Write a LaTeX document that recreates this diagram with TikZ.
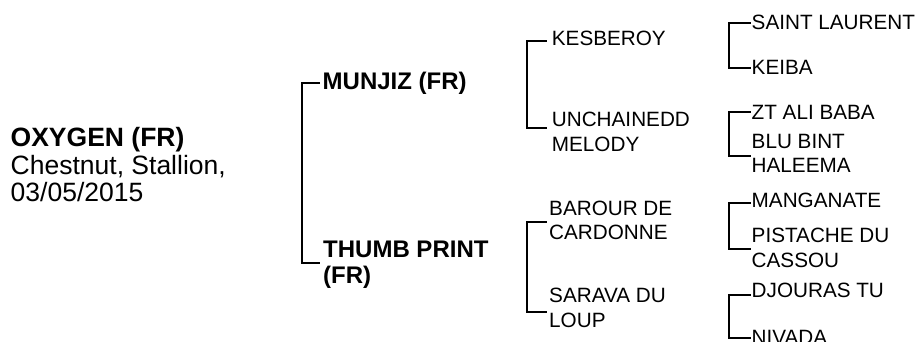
\documentclass[tikz,border=0pt]{standalone}
\usepackage{fontspec}
\setmainfont{Liberation Sans}
\begin{document}
\begin{tikzpicture}[x=1pt,y=-1pt,
  root/.style={anchor=base west, inner sep=0pt, align=left, font=\fontsize{26.5}{27.5}\selectfont},
  sire/.style={anchor=base west, inner sep=0pt, align=left, font=\bfseries\fontsize{24}{25.5}\selectfont},
  anc/.style={anchor=base west, inner sep=0pt, align=left, font=\fontsize{20.7}{24.5}\selectfont},
  link/.style={draw=black, line width=2pt, line join=miter}]
\fill[white] (0,0) rectangle (920,341);
\useasboundingbox (0,0) rectangle (920,341);

% root (anchor = baseline of the last line)
\node[root] (root) at (10.5,201.5) {\textbf{OXYGEN (FR)}\\Chestnut, Stallion,\\03/05/2015};

% generation 1
\node[sire] (s) at (322.5,89) {MUNJIZ (FR)};
\node[sire] (d) at (323,283) {THUMB PRINT\\(FR)};
\coordinate (b1x) at (302,0);
\coordinate (s-in) at (320,83);
\coordinate (d-in) at (320,263);
\draw[link] (s-in) -- (s-in -| b1x) -- (d-in -| b1x) -- (d-in);

% generation 2
\node[anc] (ss) at (551.7,45) {KESBEROY};
\node[anc] (sd) at (551.7,151.2) {UNCHAINEDD\\MELODY};
\node[anc] (ds) at (549,239.5) {BAROUR DE\\CARDONNE};
\node[anc] (dd) at (549,327) {SARAVA DU\\LOUP};
\coordinate (b2x) at (527,0);
\coordinate (ss-in) at (546.5,40.7);
\coordinate (sd-in) at (546.5,128.3);
\coordinate (ds-in) at (546.5,221.7);
\coordinate (dd-in) at (546.5,311.7);
\draw[link] (ss-in) -- (ss-in -| b2x) -- (sd-in -| b2x) -- (sd-in);
\draw[link] (ds-in) -- (ds-in -| b2x) -- (dd-in -| b2x) -- (dd-in);

% generation 3
\node[anc] (sss) at (751.5,29) {SAINT LAURENT};
\node[anc] (ssd) at (751.5,74.5) {KEIBA};
\node[anc] (sds) at (751.5,119.5) {ZT ALI BABA};
\node[anc] (sdd) at (751.5,172.8) {BLU BINT\\HALEEMA};
\node[anc] (dss) at (751.5,207.7) {MANGANATE};
\node[anc] (dsd) at (751.5,267.2) {PISTACHE DU\\CASSOU};
\node[anc] (dds) at (751.5,297.7) {DJOURAS TU};
\node[anc] (ddd) at (751.5,344.5) {NIVADA};
\coordinate (b3x) at (729.3,0);
\coordinate (sss-in) at (750.7,22.7);
\coordinate (ssd-in) at (750.7,67.7);
\coordinate (sds-in) at (750.7,112.3);
\coordinate (sdd-in) at (750.7,156);
\coordinate (dss-in) at (750.7,202.7);
\coordinate (dsd-in) at (750.7,249);
\coordinate (dds-in) at (750.7,294.5);
\coordinate (ddd-in) at (750.7,337.5);
\draw[link] (sss-in) -- (sss-in -| b3x) -- (ssd-in -| b3x) -- (ssd-in);
\draw[link] (sds-in) -- (sds-in -| b3x) -- (sdd-in -| b3x) -- (sdd-in);
\draw[link] (dss-in) -- (dss-in -| b3x) -- (dsd-in -| b3x) -- (dsd-in);
\draw[link] (dds-in) -- (dds-in -| b3x) -- (ddd-in -| b3x) -- (ddd-in);
\end{tikzpicture}
\end{document}
